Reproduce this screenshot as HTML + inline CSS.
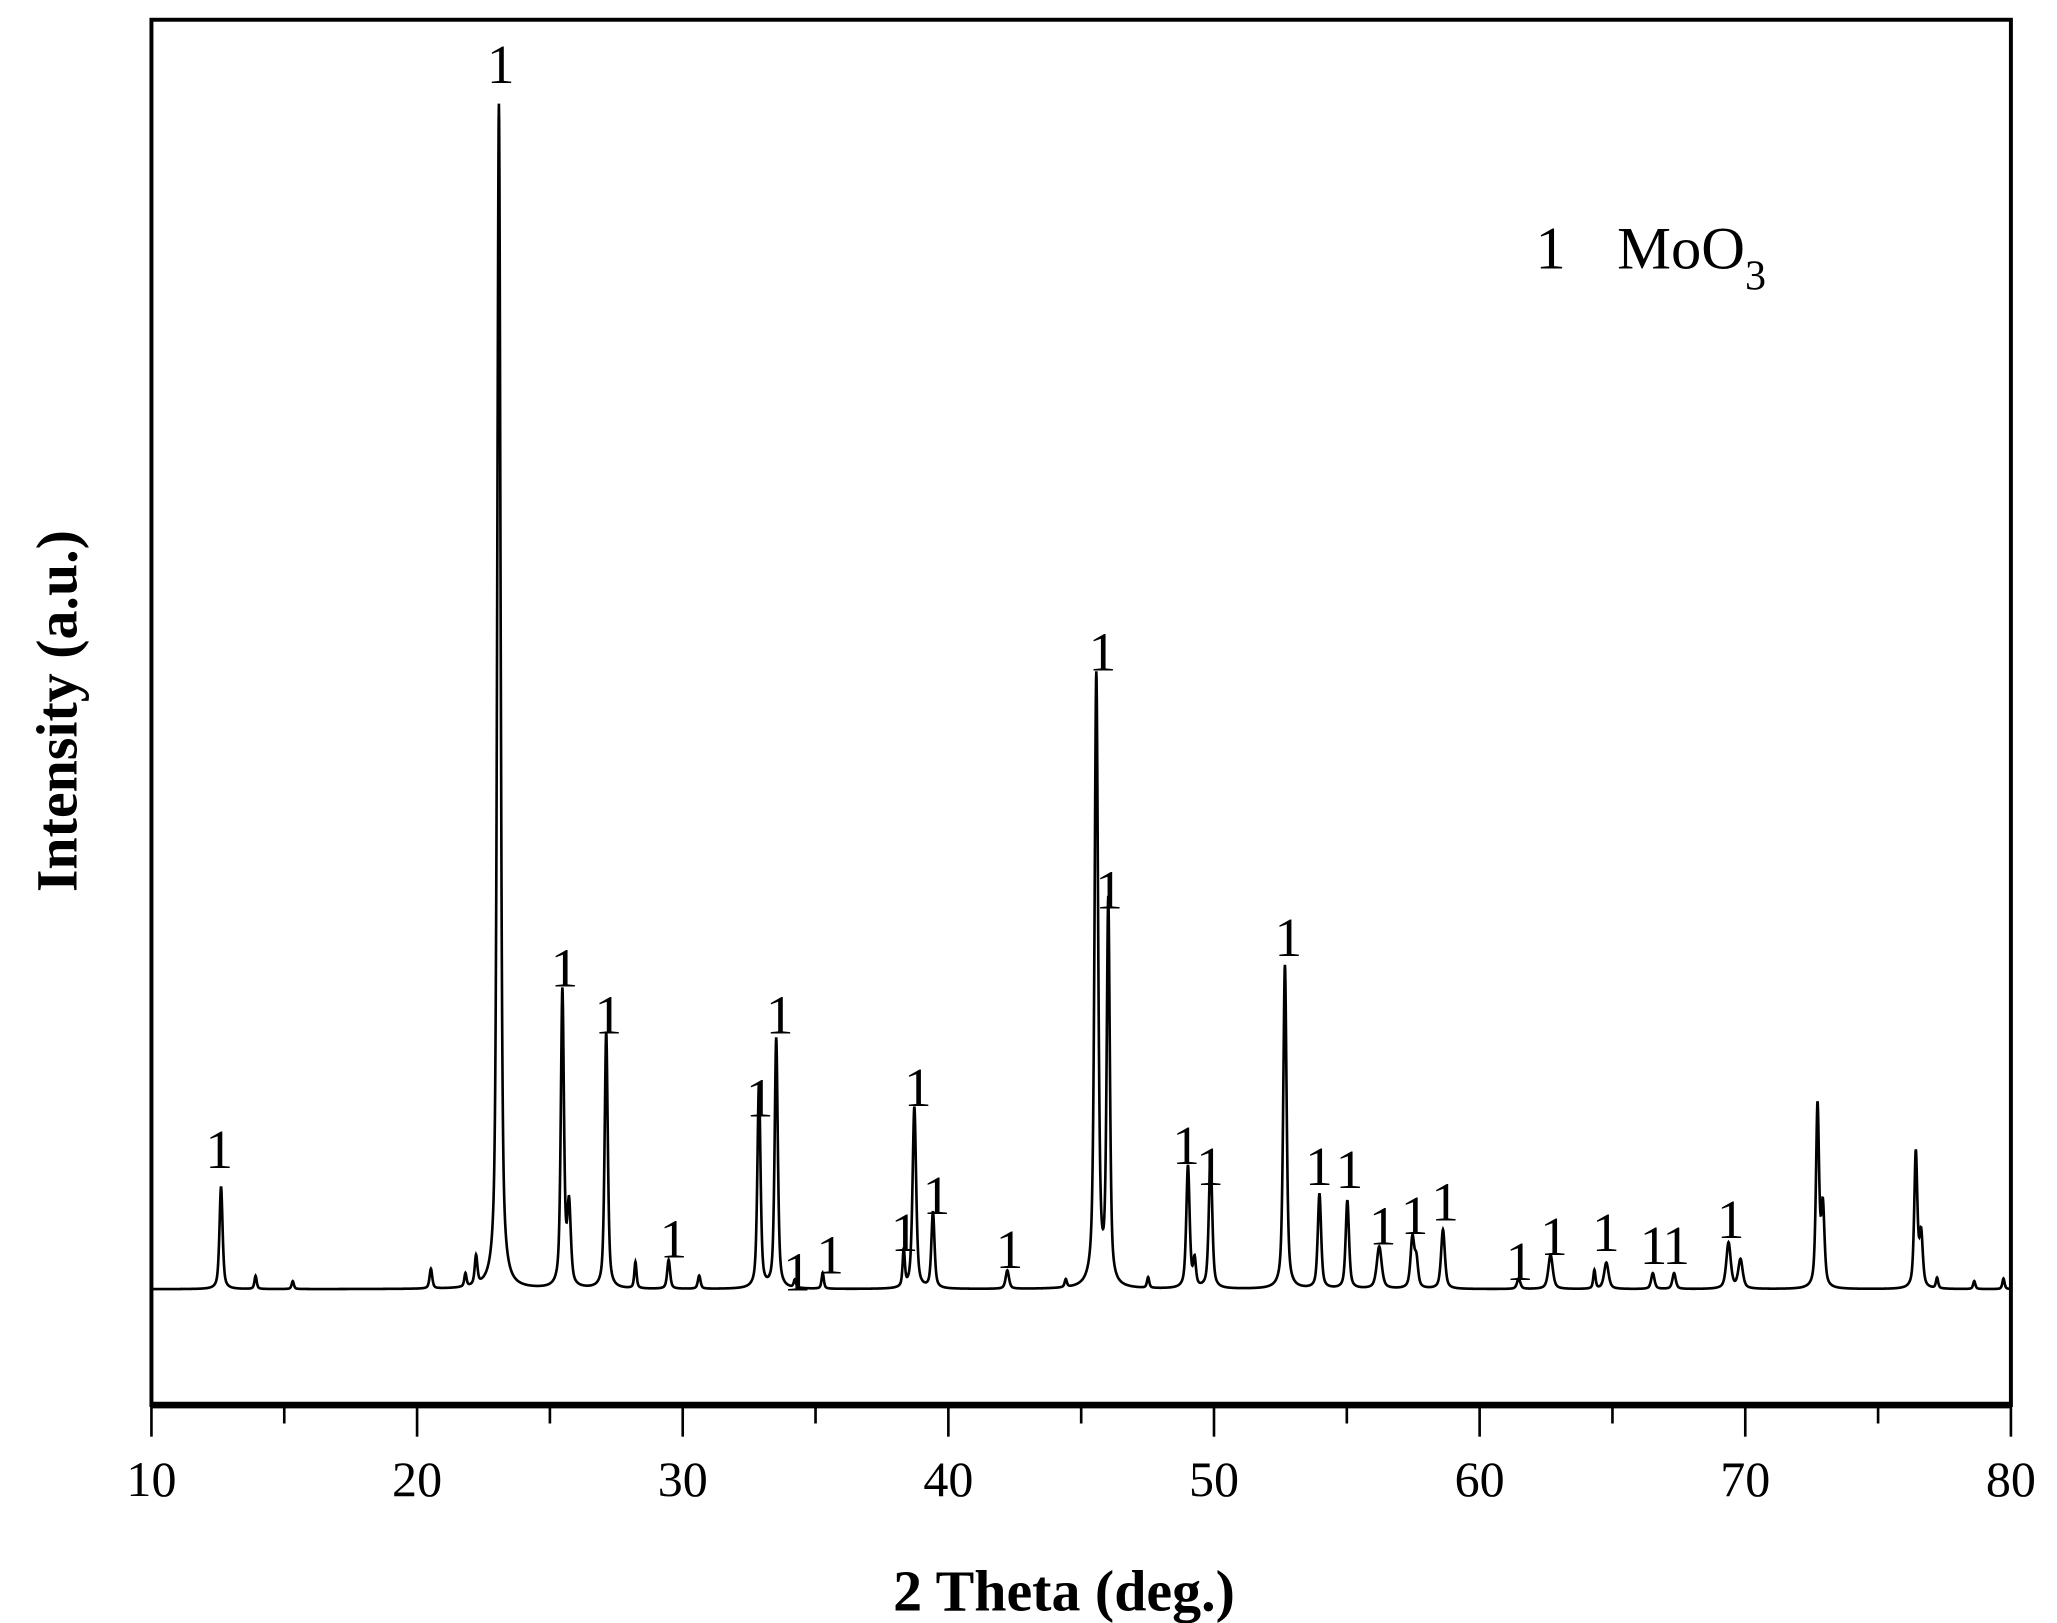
<!DOCTYPE html>
<html><head><meta charset="utf-8"><style>
html,body{margin:0;padding:0;background:#fff;}
svg{display:block;}
text{font-family:"Liberation Serif",serif;fill:#000;}
</style></head><body>
<svg id="chart" width="2057" height="1623" viewBox="0 0 1562 1232.5" preserveAspectRatio="none" xmlns="http://www.w3.org/2000/svg">
<rect x="0" y="0" width="1562" height="1233" fill="#fff"/>
<g id="plot"></g>
<g id="axes"></g>
<text x="808" y="1223" font-size="44" font-weight="bold" text-anchor="middle">2 Theta (deg.)</text>
<text transform="translate(58,540) rotate(-90)" font-size="44" font-weight="bold" text-anchor="middle">Intensity (a.u.)</text>
<g>
<text x="1166" y="204" font-size="46">1</text>
<text x="1228" y="204" font-size="46">MoO<tspan font-size="32" dy="16">3</tspan></text>
</g>
</svg>
<script>
// data
const peakPos   = [12.62,13.92,15.32,20.52,21.82,22.22,23.08,25.47,25.72,27.12,28.22,29.47,30.62,32.87,33.52,34.22,35.27,38.32,38.72,39.42,42.22,44.42,45.57,46.02,47.52,49.02,49.27,49.87,52.67,53.97,55.02,56.22,57.47,57.62,58.62,61.47,62.67,64.32,64.77,66.52,67.32,69.37,69.82,72.72,72.92,76.42,76.62,77.22,78.62,79.72];
const peakHgt   = [ 78,  10,   6,  15,  10,  22,  900,  225,  60,  195,  20,  22,  10,  155,  190,   6,  12,   28, 138,  58,  14,   6,  465,  290,   8,   93,  20,  102,  246,   72,   67,   32,   38,  20,   45,    8,   26,  14,   20,  12,  12,   35,  22,  138,  60,  103,  40,   8,   6,   8];
const peakWid   = [0.14,0.1,0.1,0.12,0.1,0.12,0.15,0.14,0.16,0.14,0.1,0.13,0.12,0.14,0.14,0.1,0.1,0.1,0.16,0.14,0.15,0.1,0.16,0.14,0.1,0.15,0.12,0.15,0.15,0.15,0.15,0.22,0.17,0.15,0.17,0.15,0.2,0.1,0.2,0.15,0.15,0.2,0.2,0.14,0.15,0.14,0.15,0.1,0.1,0.1];
const baseLevel = 88;
const xTicks = [10,20,30,40,50,60,70,80];
const labelPos  = [12.55,23.15,25.55,27.2,29.65,32.9,33.65,34.3,35.55,38.35,38.85,39.55,42.3,45.8,46.05,48.95,49.85,52.8,53.95,55.1,56.35,57.55,58.7,61.5,62.8,64.75,66.55,67.4,69.45];
const labelHgt  = [180,1004,318,282,112,219,282,87,100,117,227,145,104,558,377,183,167,341,167,165,122,130,140,95,114,117,107,107,127];

const L=115,R=1527,T=15,B=1067;
const xs=v=>L+(v-10)/70*(R-L);
const ys=v=>B-v;
const NS="http://www.w3.org/2000/svg";
const plot=document.getElementById('plot'), axes=document.getElementById('axes');
function intensity(x){
  let s=baseLevel;
  for(let i=0;i<peakPos.length;i++){
    const d=(x-peakPos[i])/peakWid[i];
    s+=peakHgt[i]*(0.6/(1+4*d*d)+0.4*Math.exp(-4*Math.LN2*d*d));
  }
  return s;
}
let d='';
for(let x=10;x<=80.0001;x+=0.01){
  d+=(d?'L':'M')+xs(x).toFixed(2)+','+ys(intensity(x)).toFixed(2);
}
const line=document.createElementNS(NS,'path');


line.setAttribute('d',d);line.setAttribute('fill','none');line.setAttribute('stroke','#000');line.setAttribute('stroke-width','2');
plot.appendChild(line);
for(let i=0;i<labelPos.length;i++){
  const t=document.createElementNS(NS,'text');
  
  
  t.setAttribute('x',xs(labelPos[i]));t.setAttribute('y',ys(labelHgt[i]));
  t.setAttribute('font-size','42');t.setAttribute('text-anchor','middle');
  t.textContent='1';plot.appendChild(t);
}
const frame=document.createElementNS(NS,'rect');


frame.setAttribute('x',L);frame.setAttribute('y',T);frame.setAttribute('width',R-L);frame.setAttribute('height',B-T);
frame.setAttribute('fill','none');frame.setAttribute('stroke','#000');frame.setAttribute('stroke-width','3');
axes.appendChild(frame);
const xaxis=document.createElementNS(NS,'line');


xaxis.setAttribute('x1',L);xaxis.setAttribute('x2',R);xaxis.setAttribute('y1',B);xaxis.setAttribute('y2',B);
xaxis.setAttribute('stroke','#000');xaxis.setAttribute('stroke-width','5');
axes.appendChild(xaxis);
for(let v=10;v<=80;v+=5){
  const tk=document.createElementNS(NS,'line');
  
  
  const major=v%10===0;
  tk.setAttribute('x1',xs(v));tk.setAttribute('x2',xs(v));tk.setAttribute('y1',B);tk.setAttribute('y2',B+(major?24:14));
  tk.setAttribute('stroke','#000');tk.setAttribute('stroke-width','2');
  axes.appendChild(tk);
}
xTicks.forEach(v=>{
  const t=document.createElementNS(NS,'text');
  
  
  t.setAttribute('x',xs(v));t.setAttribute('y',1136);t.setAttribute('font-size','38');t.setAttribute('text-anchor','middle');
  t.textContent=v;axes.appendChild(t);
});
</script>
</body></html>
